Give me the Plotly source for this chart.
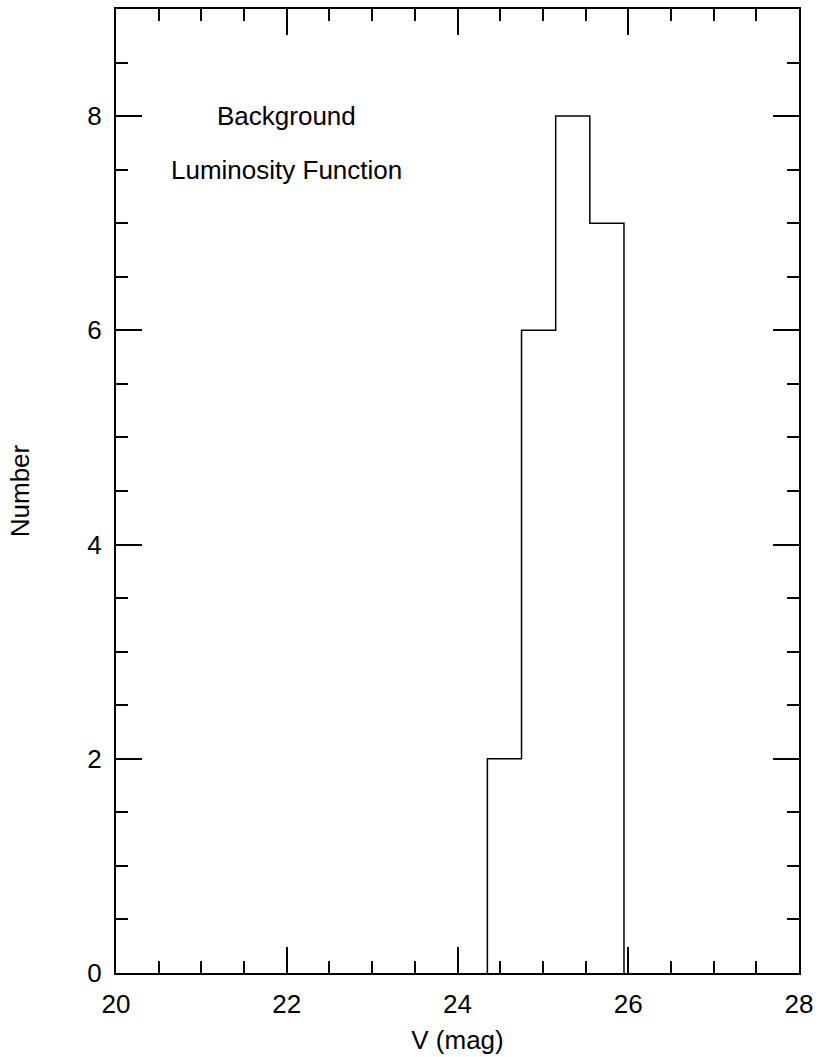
import plotly.graph_objects as go

bin_edges = [24.35, 24.75, 25.15, 25.55, 25.95]
counts = [2, 6, 8, 7]

x_ticks = [20, 22, 24, 26, 28]
y_ticks = [0, 2, 4, 6, 8]

step_x = [bin_edges[0]] + bin_edges
step_y = [0] + counts + [0]

fig = go.Figure()
fig.add_trace(go.Scatter(x=step_x, y=step_y, mode="lines", line_shape="hv",
                         line=dict(color="black", width=1.5), showlegend=False,
                         hoverinfo="skip"))

font = dict(family="Liberation Sans, Arial, sans-serif", size=26, color="black")

fig.add_annotation(x=22.0, y=8.0, text="Background", showarrow=False, font=font,
                   xanchor="center", yanchor="middle")
fig.add_annotation(x=22.0, y=7.5, text="Luminosity Function", showarrow=False, font=font,
                   xanchor="center", yanchor="middle")

axis_common = dict(showgrid=False, zeroline=False, showline=True, linecolor="black",
                   linewidth=2, mirror="allticks", ticks="inside", tickcolor="black",
                   tickwidth=1.5, ticklen=26, tickfont=font, automargin=False)

fig.update_xaxes(range=[20, 28], tickvals=x_ticks, ticktext=[str(v) for v in x_ticks],
                 ticklabelstandoff=7,
                 title=dict(text="V (mag)", font=font, standoff=13),
                 minor=dict(dtick=0.5, tick0=20, ticks="inside", ticklen=12,
                            tickcolor="black", tickwidth=1.5, showgrid=False),
                 **axis_common)
fig.update_yaxes(range=[0, 9], tickvals=y_ticks, ticktext=[str(v) for v in y_ticks],
                 ticklabelstandoff=7,
                 title=dict(text="Number", font=font, standoff=50),
                 minor=dict(dtick=0.5, tick0=0, ticks="inside", ticklen=12,
                            tickcolor="black", tickwidth=1.5, showgrid=False),
                 **axis_common)

fig.update_layout(width=820, height=1057, margin=dict(l=116, r=21, t=9, b=84),
                  plot_bgcolor="white", paper_bgcolor="white", font=font)

fig.write_html("out.html", config={"displayModeBar": False},
               post_script="document.body.style.margin='0px';document.body.style.overflow='hidden';")
